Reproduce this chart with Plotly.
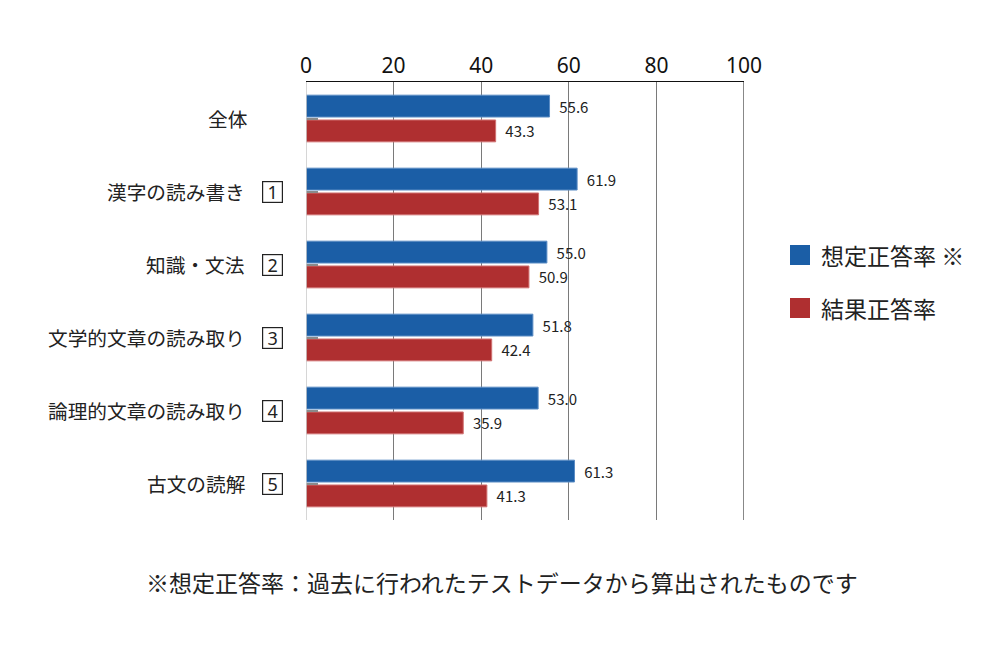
import plotly.graph_objects as go

categories = ["全体", "漢字の読み書き", "知識・文法", "文学的文章の読み取り", "論理的文章の読み取り", "古文の読解"]
category_numbers = ["", "1", "2", "3", "4", "5"]
assumed_rate = [55.6, 61.9, 55.0, 51.8, 53.0, 61.3]
result_rate = [43.3, 53.1, 50.9, 42.4, 35.9, 41.3]
series_names = ["想定正答率 ※", "結果正答率"]
x_ticks = [0, 20, 40, 60, 80, 100]
footnote = "※想定正答率：過去に行われたテストデータから算出されたものです"

BLUE = "#1b5ea6"
RED = "#af2f30"
FONT = "Noto Sans CJK JP"

OFF = 8  # page body margin
W, H = 1000, 660
# target page coordinates of plot area
PL, PR, PT, PB = 306, 744, 82, 520
L = PL - OFF
T = PT - OFF
R = W - (PR - OFF)
B = H - (PB - OFF)
pw = PR - PL
ph = PB - PT

def px(x):
    return (x - PL) / pw

def py(y):
    return (PB - y) / ph

fig = go.Figure()
for name, vals, col, edge in [(series_names[0], assumed_rate, BLUE, "#5b8cc4"),
                              (series_names[1], result_rate, RED, "#d07070")]:
    fig.add_trace(go.Bar(
        y=categories, x=vals, orientation="h", name=name,
        marker=dict(color=col, line=dict(color=edge, width=1)),
        text=[f"  {v:.1f}" for v in vals], textposition="outside",
        constraintext="none",
        textfont=dict(size=15, color="#222", family=FONT),
        cliponaxis=False, showlegend=False,
    ))

annotations = []
for cat, num in zip(categories, category_numbers):
    annotations.append(dict(
        x=px(250 if num == "" else 247), xref="paper", y=cat, yref="y",
        text=cat, showarrow=False, xanchor="right", yanchor="middle",
        font=dict(size=19.7, color="#222", family=FONT)))
    if num:
        annotations.append(dict(
            x=px(272.5), xref="paper", y=cat, yref="y",
            text=num, showarrow=False, xanchor="center", yanchor="middle",
            width=19, height=20, borderpad=0, bordercolor="#222", borderwidth=1.2,
            font=dict(size=18, color="#222", family="Noto Sans")))

# legend
legend_y = [255, 308]
colors = [BLUE, RED]
shapes = []
for name, yc, col in zip(series_names, legend_y, colors):
    shapes.append(dict(type="rect", xref="paper", yref="paper",
                       x0=px(790), x1=px(810), y0=py(yc + 10), y1=py(yc - 10),
                       fillcolor=col, line=dict(width=0)))
    annotations.append(dict(x=px(819), xref="paper", y=py(yc), yref="paper",
                            text=name, showarrow=False, xanchor="left", yanchor="middle",
                            font=dict(size=23, color="#222", family=FONT)))

annotations.append(dict(x=px(502), xref="paper", y=py(582), yref="paper",
                        xanchor="center", yanchor="middle", showarrow=False,
                        text=footnote, font=dict(size=23, color="#222", family=FONT)))

# border lines
shapes.append(dict(type="line", xref="x", yref="paper", x0=100, x1=100, y0=0, y1=1,
                   line=dict(color="#111", width=1)))
shapes.append(dict(type="line", xref="x", yref="paper", x0=0, x1=0, y0=0, y1=1,
                   line=dict(color="#c8c8c8", width=1.5)))

fig.update_layout(
    width=W, height=H,
    margin=dict(l=L, r=R, t=T, b=B, pad=0),
    paper_bgcolor="white", plot_bgcolor="white",
    barmode="group", bargap=0.32, bargroupgap=0.12,
    font=dict(family=FONT, color="#222"),
    xaxis=dict(side="top", range=[0, 100], tickvals=x_ticks, ticks="",
               tickfont=dict(size=21, family="Noto Sans", color="#111"),
               showgrid=True, gridcolor="#7a7a7a", gridwidth=1,
               showline=True, linecolor="#111", linewidth=1, zeroline=False,
               fixedrange=True),
    yaxis=dict(autorange="reversed", showticklabels=False, ticks="inside",
               ticklen=12, tickwidth=2, tickcolor="#8a8a8a",
               showgrid=False, showline=False, zeroline=False),
    annotations=annotations, shapes=shapes,
)

fig.write_html("out.html")
